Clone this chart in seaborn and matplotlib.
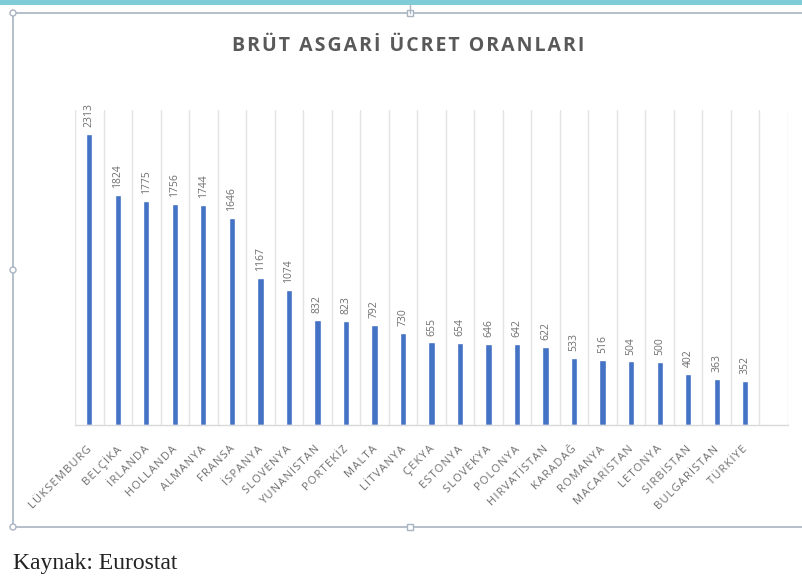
import matplotlib.pyplot as plt
import matplotlib.patches as mpatches
import matplotlib.transforms as mtransforms
import numpy as np
import seaborn as sns

countries = ["LÜKSEMBURG", "BELÇİKA", "İRLANDA", "HOLLANDA", "ALMANYA", "FRANSA",
             "İSPANYA", "SLOVENYA", "YUNANİSTAN", "PORTEKİZ", "MALTA", "LİTVANYA",
             "ÇEKYA", "ESTONYA", "SLOVEKYA", "POLONYA", "HIRVATİSTAN", "KARADAĞ",
             "ROMANYA", "MACARİSTAN", "LETONYA", "SIRBİSTAN", "BULGARİSTAN", "TÜRKİYE"]
wages = [2313, 1824, 1775, 1756, 1744, 1646, 1167, 1074, 832, 823, 792, 730,
         655, 654, 646, 642, 622, 533, 516, 504, 500, 402, 363, 352]

title = "BRÜT ASGARİ ÜCRET ORANLARI"
source = "Kaynak: Eurostat"

HAIR = "\u200a"


def spaced(s):
    # mimic the letter spacing of the original office chart
    return HAIR.join(s)


sns.set_theme(style="white")
plt.rcParams['font.family'] = ['Open Sans', 'DejaVu Sans']

W, H = 803, 580
fig = plt.figure(figsize=(W / 100, H / 100), dpi=100)

# axes placed in pixel coords of the reference
left, right, top, bottom = 75, 788, 110, 425
ax = fig.add_axes([left / W, 1 - bottom / H, (right - left) / W, (bottom - top) / H])

sns.barplot(x=countries, y=wages, color="#4472C4", width=0.22, saturation=1, ax=ax)

n = len(countries)
ax.set_xlim(-0.5, n + 0.5)
ax.set_ylim(0, 2500)
ax.set_yticks([])
ax.set_xlabel("")
ax.set_ylabel("")

# vertical gridlines at category boundaries
ax.set_xticks(np.arange(-0.5, n + 1, 1), minor=True)
ax.grid(which="minor", axis="x", color="#E3E3E3", lw=1)
ax.tick_params(axis="x", which="both", length=0)
for s in ["top", "left", "right"]:
    ax.spines[s].set_visible(False)
ax.spines["bottom"].set_color("#D9D9D9")
ax.spines["bottom"].set_linewidth(1)

# value labels
for i, v in enumerate(wages):
    ax.annotate(str(v), (i, v), xytext=(0, 5), textcoords="offset points",
                rotation=90, ha="center", va="bottom", fontsize=7.5, color="#6E6E6E")

# x tick labels, rotated
ax.set_xticks(range(n))
ax.set_xticklabels([spaced(c) for c in countries], rotation=45, ha="right",
                   rotation_mode="anchor", fontsize=8, color="#6E6E6E")
offset = mtransforms.ScaledTranslation(-2 / 72, -10 / 72, fig.dpi_scale_trans)
for lab in ax.get_xticklabels():
    lab.set_transform(lab.get_transform() + offset)

# title
fig.text(408 / W, 1 - 46 / H, spaced(title), ha="center", va="center",
         fontsize=14, fontweight="bold", color="#595959")

# selection frame and page decorations
frame_col = "#A8B4C0"
fig.patches.append(mpatches.Rectangle((13 / W, 1 - 527 / H), (W + 40) / W, (527 - 13) / H,
                                      transform=fig.transFigure, fill=False,
                                      edgecolor=frame_col, lw=1.2))
fig.patches.append(mpatches.Rectangle((0, 1 - 5 / H), 1, 5 / H, transform=fig.transFigure,
                                      facecolor="#7FCCD7", edgecolor="none"))
fig.lines.append(plt.Line2D([410 / W, 410 / W], [1 - 5 / H, 1 - 13 / H],
                            transform=fig.transFigure, color=frame_col, lw=1))
for (px, py) in [(13, 13), (13, 270), (13, 527)]:
    fig.patches.append(mpatches.Ellipse((px / W, 1 - py / H), 6 / W, 6 / H,
                                        transform=fig.transFigure, facecolor="white",
                                        edgecolor=frame_col, lw=1))
for (px, py) in [(410, 13), (410, 527)]:
    fig.patches.append(mpatches.Rectangle(((px - 3) / W, 1 - (py + 3) / H), 6 / W, 6 / H,
                                          transform=fig.transFigure, facecolor="white",
                                          edgecolor=frame_col, lw=1))

# source note
fig.text(13 / W, 1 - 564 / H, source, ha="left", va="center", fontsize=17,
         family=["Liberation Serif", "DejaVu Serif"], color="#222222")

fig.savefig("out.png", dpi=100)
